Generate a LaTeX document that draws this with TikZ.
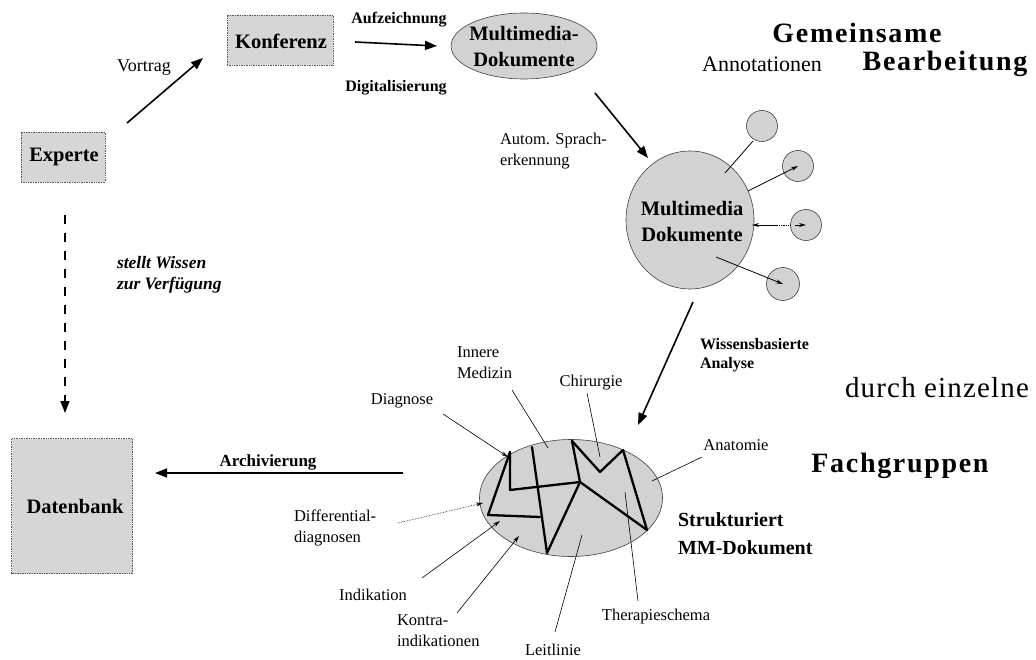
\documentclass[tikz,border=0pt]{standalone}
\usepackage{fontspec}
\setmainfont{Liberation Serif}
\usetikzlibrary{arrows.meta,shapes.geometric}
\newcommand\fsz[2]{\fontsize{#1}{#2}\selectfont}
\begin{document}
\begin{tikzpicture}[x=1pt,y=-1pt,
  every node/.style={inner sep=0pt, outer sep=0pt},
  boxnode/.style={draw=black!65, densely dotted, line width=0.7pt, fill=gray!32, rectangle},
  ellnode/.style={draw=black!75, line width=0.6pt, fill=gray!35, ellipse},
  anncirc/.style={draw=black!75, line width=0.6pt, fill=gray!35, circle, minimum size=31pt},
  bigarrow/.style={line width=1.6pt, -{Triangle[length=12pt,width=9pt]}},
  dasharrow/.style={line width=1.5pt, dash pattern=on 9pt off 9pt, -{Triangle[length=12pt,width=9pt]}},
  leader/.style={line width=0.6pt},
  leadarrow/.style={line width=0.6pt, -{Stealth[length=7pt,width=4pt]}},
  annline/.style={line width=0.8pt},
  annarrow/.style={line width=0.8pt, -{Stealth[length=7pt,width=4pt]}},
  zig/.style={line width=2.3pt, line join=round, line cap=round},
  boxtext/.style={font=\fsz{20.5}{26}\bfseries},
  smalllbl/.style={font=\fsz{16.5}{21}, align=left},
  boldlbl/.style={font=\fsz{16}{19}\bfseries, align=left},
  heading/.style={font=\fsz{28}{32}\bfseries\addfontfeatures{LetterSpace=6}},
]
\useasboundingbox (0,0) rectangle (1036,660);

% main nodes
\node[boxnode, minimum width=84pt, minimum height=50pt] (experte) at (63,157) {};
\node[boxtext] (experteT) at (64,157) {Experte};
\node[boxnode, minimum width=106pt, minimum height=50pt] (konf) at (280,40) {};
\node[boxtext] (konfT) at (281,41) {Konferenz};
\node[ellnode, minimum width=146pt, minimum height=66pt] (mm1) at (524,46) {};
\node[boxtext, align=center] (mm1T) at (524,47) {Multimedia-\\Dokumente};
\node[ellnode, minimum width=128pt, minimum height=138pt] (mm2) at (690,220) {};
\node[boxtext, align=center] (mm2T) at (692,222) {Multimedia\\Dokumente};
\node[boxnode, minimum width=121pt, minimum height=135pt] (db) at (72,506) {};
\node[boxtext] (dbT) at (75,506) {Datenbank};

% annotation circles
\node[anncirc] (c1) at (762,126) {};
\node[anncirc] (c2) at (798,166) {};
\node[anncirc] (c3) at (806,225) {};
\node[anncirc, minimum size=33pt] (c4) at (783,284) {};

% structured document
\node[ellnode, minimum width=183pt, minimum height=117pt] (sd) at (571,498) {};

% coordinates for connectors
\coordinate (v0) at (127,123); \coordinate (v1) at (203,58);
\coordinate (k0) at (355,42); \coordinate (k1) at (437,46);
\coordinate (m0) at (595,93); \coordinate (m1) at (648,158);
\coordinate (w0) at (693,302); \coordinate (w1) at (638,425);
\coordinate (a0) at (403,473); \coordinate (a1) at (155,473);
\coordinate (e0) at (65,215); \coordinate (e1) at (65,413);

\draw[bigarrow] (v0) -- (v1);
\draw[bigarrow] (k0) -- (k1);
\draw[bigarrow] (m0) -- (m1);
\draw[bigarrow] (w0) -- (w1);
\draw[bigarrow] (a0) -- (a1);
\draw[dasharrow] (e0) -- (e1);

% annotation links
\coordinate (l1a) at (725,173); \coordinate (l1b) at (753,141);
\coordinate (l2a) at (748,191); \coordinate (l3a) at (777,225);
\coordinate (l3b) at (752,225); \coordinate (l3c) at (795,225);
\coordinate (l4a) at (716,257);
\draw[annline] (l1a) -- (l1b);
\draw[annarrow] (l2a) -- (c2.center);
\draw[annline, densely dotted] (c3.west) -- (l3a);
\draw[annarrow] (l3a) -- (l3b);
\draw[annarrow] (l3c) -- (c3.center);
\draw[annarrow] (l4a) -- (c4.center);

% zigzag structure
\coordinate (z1) at (510,452); \coordinate (z2) at (510,490);
\coordinate (z3) at (580,482); \coordinate (z4) at (488,515);
\coordinate (z5) at (540,517); \coordinate (z6) at (532,447);
\coordinate (z7) at (547,553); \coordinate (z8) at (572,441);
\coordinate (z9) at (600,472); \coordinate (z10) at (623,450);
\coordinate (z11) at (647,530);
\draw[zig] (z1) -- (z2) -- (z3);
\draw[zig] (z1) -- (z4) -- (z5);
\draw[zig] (z6) -- (z7) -- (z3);
\draw[zig] (z8) -- (z9) -- (z10) -- (z11);
\draw[zig] (z8) -- (z3) -- (z11);

% labels
\node[font=\fsz{18}{21}] (vortrag) at (144,68) {Vortrag};
\node[boldlbl] (aufz) at (399,20) {Aufzeichnung};
\node[boldlbl] (digi) at (396,88) {Digitalisierung};
\node[smalllbl, anchor=west] (autom) at (500,151) {Autom. Sprach-\\erkennung};
\node[font=\fsz{17.5}{21}\bfseries\itshape, align=left, anchor=west] (stellt) at (117,275) {stellt Wissen\\zur Verfügung};
\node[font=\fsz{22}{25}] (annot) at (762,64) {Annotationen};
\node[heading] (gem) at (857,33) {Gemeinsame};
\node[heading] (bearb) at (945,64) {Bearbeitung};
\node[boldlbl, anchor=west] (wiss) at (700,355) {Wissensbasierte\\Analyse};
\node[font=\fsz{29}{32}\addfontfeatures{LetterSpace=4}] (durch) at (937,388) {durch einzelne};
\node[heading] (fach) at (900,466) {Fachgruppen};
\node[font=\fsz{20}{28}\bfseries, align=left, anchor=west] (strukt) at (678,534) {Strukturiert\\MM-Dokument};
\node[font=\fsz{17}{20}\bfseries] (archiv) at (268,462) {Archivierung};

\node[smalllbl, anchor=west] (innere) at (457,363) {Innere\\Medizin};
\node[smalllbl] (diag) at (402,401) {Diagnose};
\node[smalllbl] (chir) at (591,383) {Chirurgie};
\node[smalllbl] (anat) at (736,445) {Anatomie};
\node[smalllbl, anchor=west] (diff) at (294,528) {Differential-\\diagnosen};
\node[smalllbl] (indik) at (373,595) {Indikation};
\node[smalllbl, anchor=west] (kontra) at (397,631) {Kontra-\\indikationen};
\node[smalllbl] (leit) at (553,650) {Leitlinie};
\node[smalllbl] (thera) at (656,617) {Therapieschema};

% leaders
\coordinate (ia) at (512,390); \coordinate (ib) at (548,448);
\coordinate (da) at (443,414); \coordinate (db2) at (508,457);
\coordinate (ca) at (587,393); \coordinate (cb) at (600,457);
\coordinate (aa) at (702,457); \coordinate (ab) at (652,481);
\coordinate (dfa) at (398,523); \coordinate (dfb) at (483,503);
\coordinate (ina) at (422,578); \coordinate (inb) at (500,521);
\coordinate (ka) at (457,613); \coordinate (kb) at (519,536);
\coordinate (la) at (555,632); \coordinate (lb) at (582,535);
\coordinate (ta) at (638,601); \coordinate (tb) at (625,492);
\draw[leader] (ia) -- (ib);
\draw[leadarrow] (da) -- (db2);
\draw[leader] (ca) -- (cb);
\draw[leader] (aa) -- (ab);
\draw[leadarrow, densely dotted] (dfa) -- (dfb);
\draw[leadarrow] (ina) -- (inb);
\draw[leadarrow] (ka) -- (kb);
\draw[leader] (la) -- (lb);
\draw[leader] (ta) -- (tb);
\end{tikzpicture}
\end{document}
